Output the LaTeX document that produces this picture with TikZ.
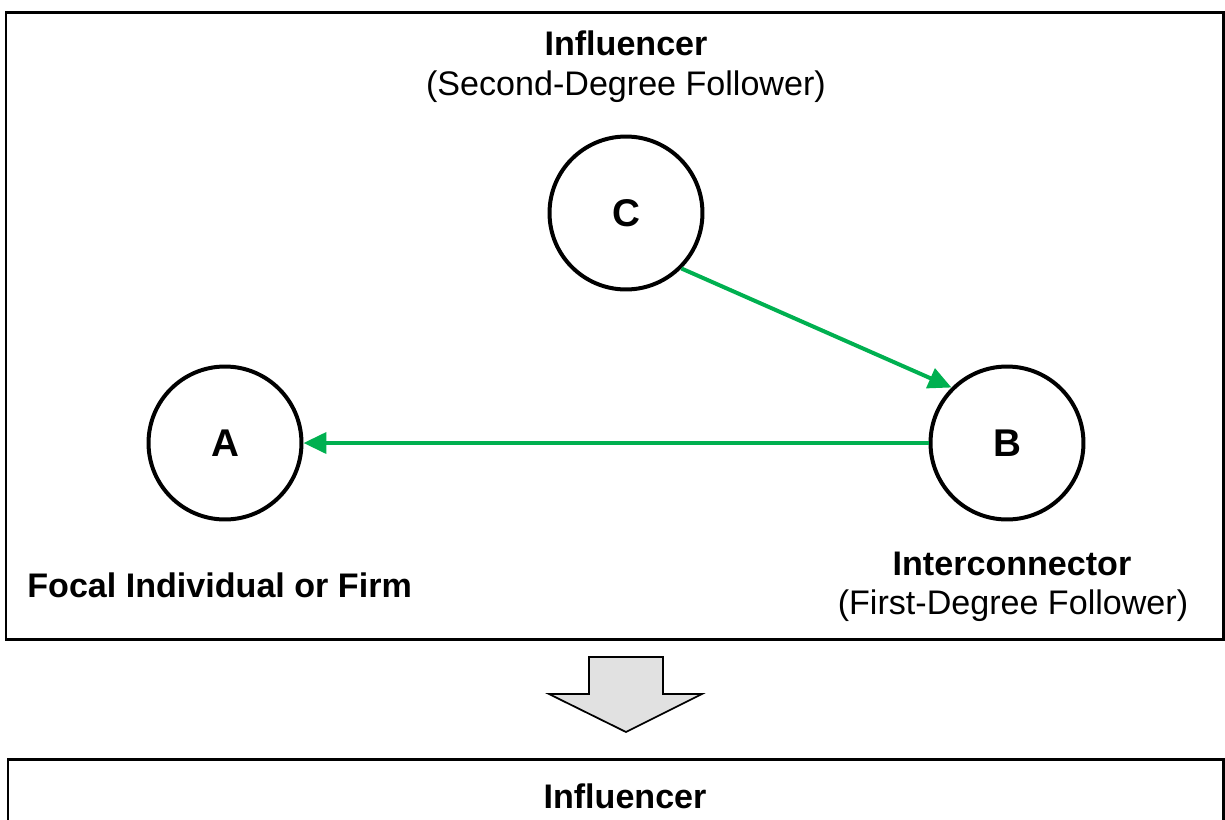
\documentclass[tikz,border=0pt]{standalone}
\usepackage{fontspec}
\setmainfont{Liberation Sans}
\usetikzlibrary{arrows.meta}
\definecolor{arrowgreen}{RGB}{0,176,80}
\definecolor{fillgray}{RGB}{225,225,225}
\begin{document}
\begin{tikzpicture}[x=0.02cm,y=-0.02cm,
  lbl/.style={font=\fontsize{19.4}{23}\selectfont, inner sep=0pt, anchor=base},
  boldlbl/.style={lbl, font=\fontsize{19.4}{23}\selectfont\bfseries},
  circ/.style={circle, draw, line width=0.08cm, minimum size=3.06cm, inner sep=0pt,
    font=\fontsize{22}{26}\selectfont\bfseries},
  link/.style={draw=arrowgreen, line width=0.08cm, -{Triangle[length=0.46cm,width=0.42cm]}},
  panel/.style={draw, line width=0.06cm},
  bigarrow/.style={draw, line width=0.035cm, fill=fillgray, line join=miter}]
\useasboundingbox (0,0) rectangle (1225,819);
\clip (0,0) rectangle (1225,819);
% panels
\draw[panel] (6,12) rectangle (1223,639);
\draw[panel] (8,840) -- (8,759) -- (1223,759) -- (1223,840);
% big down arrow
\draw[bigarrow] (589,657) -- (663,657) -- (663,694) -- (702,694) -- (626,732)
  -- (549,694) -- (589,694) -- cycle;
% circles
\node[circ] (C) at (626,213) {C};
\node[circ] (A) at (225,443) {A};
\node[circ] (B) at (1007,443) {B};
% connectors
\draw[link] (C.-45) -- (B.135);
\draw[link] (B.west) -- (A.east);
% labels
\node[boldlbl] (infl1) at (626,55) {Influencer};
\node[lbl] (sdf) at (626,95) {(Second-Degree Follower)};
\node[boldlbl, anchor=base west] (focal) at (27,597) {Focal Individual or Firm};
\node[boldlbl] (inter) at (1012,575) {Interconnector};
\node[lbl] (fdf) at (1013,614) {(First-Degree Follower)};
\node[boldlbl] (infl2) at (625,808) {Influencer};
\end{tikzpicture}
\end{document}
